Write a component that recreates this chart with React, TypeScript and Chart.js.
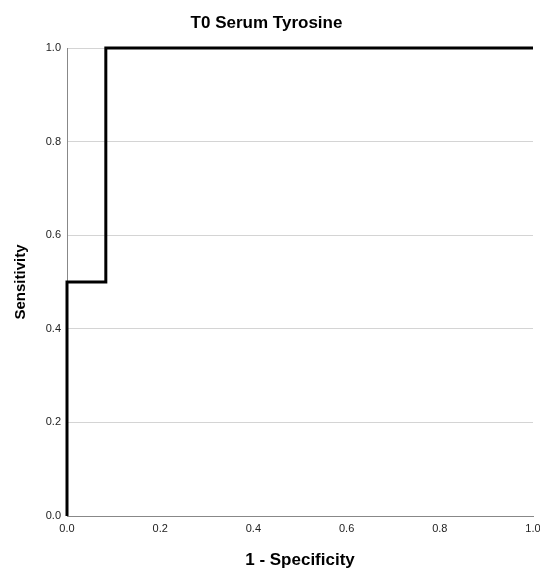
import React, { useEffect, useRef } from "react";
import { Chart, registerables } from "chart.js";

Chart.register(...registerables);

const titleText = "T0 Serum Tyrosine";
const xTitle = "1 - Specificity";
const yTitle = "Sensitivity";
const fpr = [0, 0, 0.0833, 0.0833, 1];
const tpr = [0, 0.5, 0.5, 1, 1];

const FONT = "'Liberation Sans', Arial, sans-serif";

export default function App() {
  const ref = useRef<HTMLCanvasElement | null>(null);
  useEffect(() => {
    if (!ref.current) return;
    const chart = new Chart(ref.current, {
      type: "scatter",
      data: {
        datasets: [
          {
            data: fpr.map((x, i) => ({ x, y: tpr[i] })),
            showLine: true,
            borderColor: "#000",
            borderWidth: 3,
            pointRadius: 0,
            fill: false,
            clip: false as any,
          },
        ],
      },
      options: {
        animation: false,
        responsive: false,
        maintainAspectRatio: false,
        layout: { padding: { left: 0, right: 7, top: 0, bottom: 0 } },
        plugins: {
          legend: { display: false },
          tooltip: { enabled: false },
          title: {
            display: true,
            text: titleText,
            color: "#000",
            font: { family: FONT, size: 17, weight: "bold" },
            padding: { top: 13, bottom: 14.6 },
          },
        },
        scales: {
          x: {
            type: "linear",
            min: 0,
            max: 1,
            afterFit: (s: any) => {
              s.height = 54;
              s.paddingRight = 0;
              s.paddingLeft = 0;
            },
            grid: { drawOnChartArea: false, drawTicks: false },
            border: { color: "#888", width: 1 },
            ticks: {
              stepSize: 0.2,
              padding: 6,
              color: "#222",
              font: { family: FONT, size: 11 },
              callback: (v: any) => Number(v).toFixed(1),
            },
            title: {
              display: true,
              text: xTitle,
              color: "#000",
              font: { family: FONT, size: 17, weight: "bold" },
              padding: { top: 0, bottom: -1 },
            },
          },
          y: {
            type: "linear",
            min: 0,
            max: 1,
            afterFit: (s: any) => {
              s.width = 67;
            },
            grid: { color: "#d4d4d4", drawTicks: false, lineWidth: 1 },
            border: { color: "#888", width: 1 },
            ticks: {
              stepSize: 0.2,
              padding: 6,
              color: "#222",
              font: { family: FONT, size: 11 },
              callback: (v: any) => Number(v).toFixed(1),
            },
            title: {
              display: true,
              text: yTitle,
              color: "#000",
              font: { family: FONT, size: 15, weight: "bold" },
              padding: { top: 12, bottom: 0 },
            },
          },
        },
      },
    });
    return () => chart.destroy();
  }, []);
  return (
    <div style={{ position: "fixed", left: 0, top: 0, width: 540, height: 570, background: "#fff", overflow: "hidden" }}>
      <canvas ref={ref} width={540} height={570} style={{ display: "block" }} />
    </div>
  );
}
